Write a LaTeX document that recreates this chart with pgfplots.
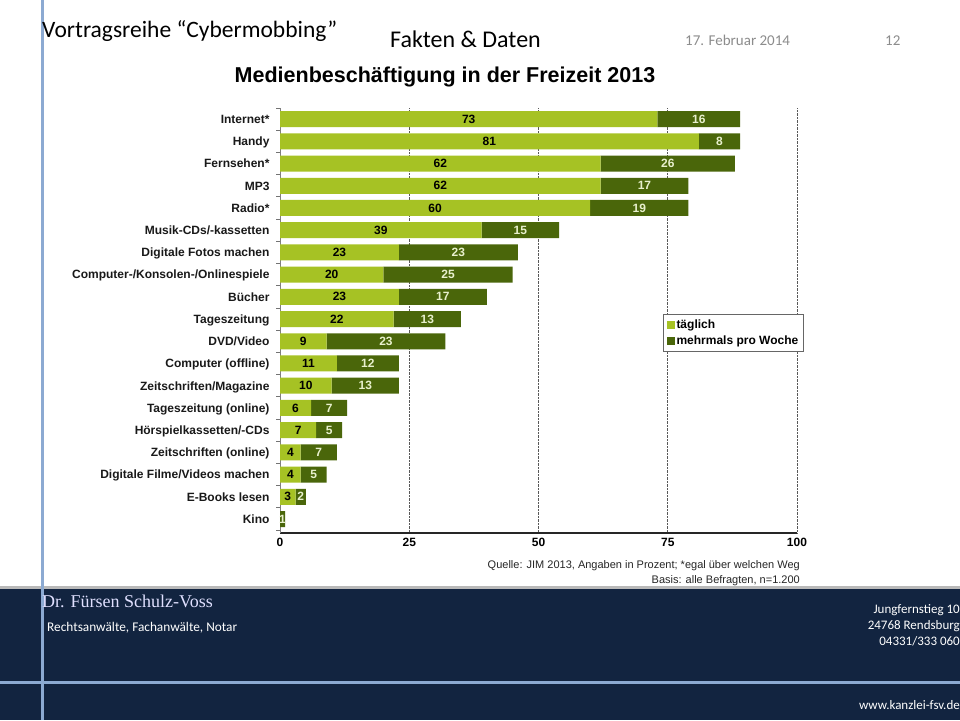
\documentclass[border=0pt]{standalone}
\usepackage{fontspec}
\setmainfont{Carlito}
\newfontfamily\arialf{Liberation Sans}
\newfontfamily\timesf{Liberation Serif}
\usepackage{pgfplots}
\usepackage{pgfplotstable}
\pgfplotsset{compat=1.18}
\definecolor{lightg}{RGB}{166,194,36}
\definecolor{darkg}{RGB}{74,102,10}
\definecolor{wlab}{RGB}{232,240,205}
\definecolor{navy}{RGB}{18,36,64}
\definecolor{slblue}{RGB}{140,170,210}
\definecolor{hgray}{RGB}{140,140,140}
\pgfplotstableread{
y d dl w
0 0 {} 1
1 3 3 2
2 4 4 5
3 4 4 7
4 7 7 5
5 6 6 7
6 10 10 13
7 11 11 12
8 9 9 23
9 22 22 13
10 23 23 17
11 20 20 25
12 23 23 23
13 39 39 15
14 60 60 19
15 62 62 17
16 62 62 26
17 81 81 8
18 73 73 16
}\data
\begin{document}
\begin{tikzpicture}[x=1pt,y=1pt]
\path[use as bounding box] (0,0) rectangle (960,720);
\fill[white] (0,0) rectangle (960,720);
% footer
\fill[navy] (0,0) rectangle (960,131);
\draw[gray!55, line width=2.5pt] (0,132.5) -- (960,132.5);
\draw[slblue, line width=3pt] (0,38) -- (960,38);
\draw[slblue, line width=3pt] (42,0) -- (42,720);
% header
\node[anchor=base west, inner sep=0pt, font=\fontsize{23.5}{27}\selectfont] at (42,682) {Vortragsreihe “Cybermobbing”};
\node[anchor=base west, inner sep=0pt, font=\fontsize{24}{27}\selectfont] at (390,672) {Fakten \& Daten};
\node[anchor=base west, inner sep=0pt, text=hgray, font=\fontsize{15}{18}\selectfont] at (685,674) {17. Februar 2014};
\node[anchor=base west, inner sep=0pt, text=hgray, font=\fontsize{15}{18}\selectfont] at (885,674) {12};
\node[anchor=center, inner sep=0pt, font=\arialf\bfseries\fontsize{21.5}{25}\selectfont] at (445,643) {Medienbeschäftigung in der Freizeit 2013};
% source
\node[anchor=base east, inner sep=0pt, text=black!85, font=\arialf\fontsize{11}{12}\selectfont] at (800,151) {Quelle: JIM 2013, Angaben in Prozent; *egal über welchen Weg};
\node[anchor=base east, inner sep=0pt, text=black!85, font=\arialf\fontsize{11}{12}\selectfont] at (800,137) {Basis: alle Befragten, n=1.200};
% footer text
\node[anchor=base west, inner sep=0pt, text=white!88!blue, font=\timesf\fontsize{18}{20}\selectfont] at (42,113) {Dr. Fürsen Schulz-Voss};
\node[anchor=base west, inner sep=0pt, text=white, font=\fontsize{13.3}{15}\selectfont] at (47,89) {Rechtsanwälte, Fachanwälte, Notar};
\node[anchor=base east, inner sep=0pt, text=white, font=\fontsize{13}{15}\selectfont] at (960,107) {Jungfernstieg 10};
\node[anchor=base east, inner sep=0pt, text=white, font=\fontsize{13}{15}\selectfont] at (960,91) {24768 Rendsburg};
\node[anchor=base east, inner sep=0pt, text=white, font=\fontsize{13}{15}\selectfont] at (960,75) {04331/333 060};
\node[anchor=base east, inner sep=0pt, text=white, font=\fontsize{13}{15}\selectfont] at (960,11) {www.kanzlei-fsv.de};
\begin{axis}[
  at={(280pt,187pt)}, anchor=south west,
  scale only axis, width=517pt, height=425pt,
  xbar stacked, bar width=16pt,
  xmin=0, xmax=100, ymin=-0.63, ymax=18.5,
  axis x line*=bottom, axis y line*=left,
  xtick={0,25,50,75,100}, ytick={0,...,18},
  yticklabels={Kino,E-Books lesen,Digitale Filme/Videos machen,Zeitschriften (online),Hörspielkassetten/-CDs,Tageszeitung (online),Zeitschriften/Magazine,Computer (offline),DVD/Video,Tageszeitung,Bücher,Computer-/Konsolen-/Onlinespiele,Digitale Fotos machen,Musik-CDs/-kassetten,Radio*,MP3,Fernsehen*,Handy,Internet*},
  minor ytick={-0.5,0.5,...,18.5},
  major tick length=0pt, minor tick length=4pt, tick align=outside,
  minor tick style={draw=black!55, line width=0.8pt},
  xmajorgrids, grid style={densely dotted, black!65, line width=0.9pt},
  x axis line style={black!85, line width=1.3pt, -},
  y axis line style={black!50, line width=0.8pt, -},
  ticklabel style={font=\arialf\bfseries\fontsize{12}{14}\selectfont},
  /pgf/number format/assume math mode=true,
  yticklabel style={xshift=-7pt, text=black!90, text height=8.6pt, text depth=0pt},
  xticklabel style={yshift=-2pt},
  legend style={at={(0.741,0.515)}, anchor=north west, draw=black!60, line width=0.8pt,
    font=\arialf\bfseries\fontsize{12}{13}\selectfont, cells={anchor=west}, row sep=2pt, inner sep=3pt},
  legend image code/.code={\fill[#1] (0pt,-4pt) rectangle (8pt,4pt);},
]
\addplot[fill=lightg, draw=none, point meta=explicit symbolic, nodes near coords,
  every node near coord/.append style={anchor=center, text=black, font=\arialf\bfseries\fontsize{12}{14}\selectfont}]
  table[x=d, y=y, meta=dl] {\data};
\addlegendentry{täglich}
\addplot[fill=darkg, draw=none, point meta=explicit symbolic, nodes near coords,
  every node near coord/.append style={anchor=center, text=wlab, font=\arialf\bfseries\fontsize{12}{14}\selectfont}]
  table[x=w, y=y, meta=w] {\data};
\addlegendentry{mehrmals pro Woche}
\end{axis}
\end{tikzpicture}
\end{document}
